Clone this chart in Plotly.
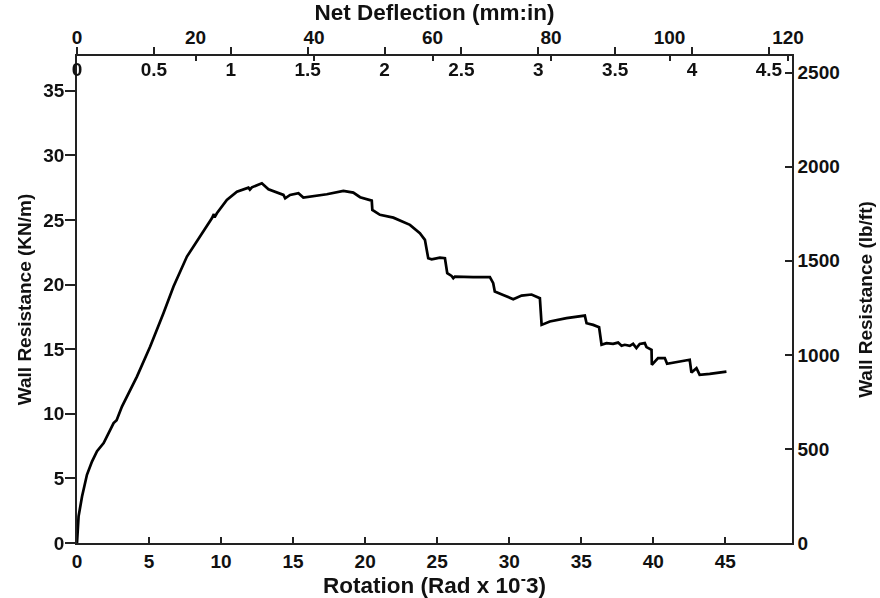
import plotly.graph_objects as go

# Rotation (rad x 1e-3) and wall resistance (kN/m)
rotation = [0.0, 0.11, 0.35, 0.58, 0.69, 1.04, 1.39, 1.85, 2.54, 2.75, 3.12, 4.16, 5.08,
            6.0, 6.7, 7.63, 8.55, 9.36, 9.5, 9.55, 9.71, 10.4, 11.1, 11.9, 12.0, 12.14,
            12.83, 13.29, 14.33, 14.45, 14.79, 15.37, 15.71, 17.34, 18.49, 19.18, 19.65,
            20.11, 20.46, 20.5, 21.03, 21.96, 23.11, 23.8, 24.15, 24.38, 24.62, 25.19,
            25.54, 25.7, 26.0, 26.12, 26.23, 27.5, 28.66, 28.89, 29.0, 29.58, 30.28,
            30.86, 31.55, 32.13, 32.25, 32.82, 33.98, 35.25, 35.37, 35.83, 36.24, 36.41,
            36.75, 37.21, 37.56, 37.8, 38.02, 38.37, 38.6, 38.83, 39.06, 39.41, 39.53,
            39.88, 39.9, 40.33, 40.8, 40.96, 42.53, 42.65, 43.0, 43.22, 43.92, 45.08]
resistance = [0.0, 2.06, 3.6, 4.9, 5.28, 6.3, 7.1, 7.73, 9.28, 9.5, 10.56, 12.88, 15.2,
              17.79, 19.85, 22.17, 23.71, 25.13, 25.45, 25.2, 25.52, 26.55, 27.19, 27.5,
              27.35, 27.53, 27.84, 27.38, 26.94, 26.68, 26.94, 27.07, 26.73, 26.99, 27.25,
              27.12, 26.76, 26.6, 26.5, 25.78, 25.4, 25.18, 24.62, 23.98, 23.46, 22.04,
              21.96, 22.09, 22.04, 20.88, 20.67, 20.5, 20.62, 20.57, 20.57, 20.11, 19.46,
              19.2, 18.87, 19.15, 19.23, 18.95, 16.88, 17.14, 17.4, 17.6, 17.01, 16.88,
              16.7, 15.34, 15.47, 15.41, 15.51, 15.26, 15.34, 15.26, 15.41, 15.08, 15.41,
              15.47, 15.16, 14.95, 13.79, 14.31, 14.31, 13.87, 14.18, 13.19, 13.53, 13.02,
              13.09, 13.27]

rot_ticks = [0, 5, 10, 15, 20, 25, 30, 35, 40, 45]
kn_ticks = [0, 5, 10, 15, 20, 25, 30, 35]
lbft_ticks = [0, 500, 1000, 1500, 2000, 2500]
mm_ticks = [0, 20, 40, 60, 80, 100, 120]
in_ticks = [0, 0.5, 1, 1.5, 2, 2.5, 3, 3.5, 4, 4.5]
in_labels = ["0", "0.5", "1", "1.5", "2", "2.5", "3", "3.5", "4", "4.5"]

X_MAX = 49.63
Y_MAX = 37.69
LBFT_MAX = 2589
MM_MAX = 120.67
IN_MAX = 4.65

FAM = "Liberation Sans, Arial, Helvetica, sans-serif"
tick_font = dict(family=FAM, size=19, color="#111", weight="bold")
htitle_font = dict(family=FAM, size=22.5, color="#111", weight="bold")
vtitle_font = dict(family=FAM, size=19, color="#111", weight="bold")

fig = go.Figure()
fig.add_trace(go.Scatter(x=rotation, y=resistance, mode="lines",
                         line=dict(color="black", width=2.7), showlegend=False,
                         xaxis="x", yaxis="y"))
# helper traces so the secondary axes are rendered
fig.add_trace(go.Scatter(x=[0, MM_MAX], y=[0, Y_MAX], mode="markers", opacity=0,
                         showlegend=False, hoverinfo="skip", xaxis="x2", yaxis="y"))
fig.add_trace(go.Scatter(x=[0, IN_MAX], y=[0, Y_MAX], mode="markers", opacity=0,
                         showlegend=False, hoverinfo="skip", xaxis="x3", yaxis="y"))
fig.add_trace(go.Scatter(x=[0, X_MAX], y=[0, LBFT_MAX], mode="markers", opacity=0,
                         showlegend=False, hoverinfo="skip", xaxis="x", yaxis="y2"))

axis_common = dict(showgrid=False, zeroline=False, showline=True, linecolor="#222",
                   linewidth=1.5, tickcolor="#222", tickwidth=1.5, tickfont=tick_font,
                   automargin=False)

fig.update_layout(
    width=880, height=598,
    margin=dict(l=77, r=88, t=56, b=55),
    paper_bgcolor="white", plot_bgcolor="white",
    xaxis=dict(**axis_common, range=[0, X_MAX], tickvals=rot_ticks, ticks="inside",
               ticklen=6, side="bottom", anchor="y", ticklabelstandoff=0,
               title=dict(text="Rotation (Rad x 10<sup>-</sup>3)", font=htitle_font, standoff=2)),
    xaxis2=dict(**axis_common, range=[0, MM_MAX], tickvals=mm_ticks, ticks="inside",
                ticklen=5, side="top", overlaying="x", anchor="y", ticklabelstandoff=3,
                title=dict(text="Net Deflection (mm:in)", font=htitle_font, standoff=0)),
    xaxis3=dict(**axis_common, range=[0, IN_MAX], tickvals=in_ticks, ticktext=in_labels,
                ticks="outside", ticklen=7, side="top", overlaying="x", anchor="y",
                ticklabelposition="inside", ticklabeloverflow="allow", ticklabelstandoff=8),
    yaxis=dict(**axis_common, range=[0, Y_MAX], tickvals=kn_ticks, ticks="outside",
               ticklen=10, side="left", anchor="x", ticklabelstandoff=-3,
               title=dict(text="Wall Resistance (KN/m)", font=vtitle_font, standoff=7)),
    yaxis2=dict(**axis_common, range=[0, LBFT_MAX], tickvals=lbft_ticks, ticks="inside",
                ticklen=7, side="right", overlaying="y", anchor="x",
                title=dict(text="Wall Resistance (lb/ft)", font=vtitle_font, standoff=20)),
)

fig.write_html("out.html")
